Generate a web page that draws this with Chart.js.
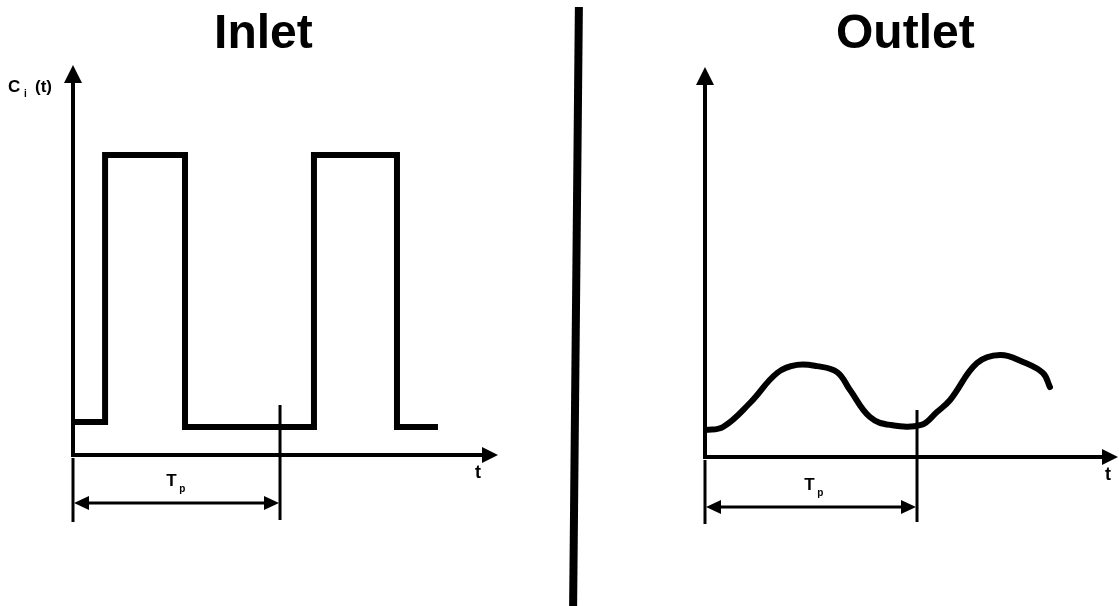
<!DOCTYPE html>
<html>
<head>
<meta charset="utf-8">
<script src="https://cdn.jsdelivr.net/npm/chart.js@4"></script>
<style>
  body { margin: 0; background: #fff; width: 1119px; height: 606px; overflow: hidden; position: relative; }
  canvas { position: absolute; top: 0; }
  #inlet { left: 0; }
  #outlet { left: 590px; }
  #divider { position: absolute; left: 572px; top: 7px; width: 8px; height: 599px; background: #000; transform: skewX(-0.55deg); }
</style>
</head>
<body>
<canvas id="inlet" width="560" height="606"></canvas>
<div id="divider"></div>
<canvas id="outlet" width="529" height="606"></canvas>
<script>
// inlet: square pulses (t in units where one period Tp = 10)
const inletT = [0, 1.55, 1.55, 5.41, 5.41, 11.64, 11.64, 15.65, 15.65, 17.63];
const inletC = [0.11, 0.11, 1, 1, 0.093, 0.093, 1, 1, 0.093, 0.093];

// outlet: damped, smoothed response
const outletT = [0, 0.85, 2.12, 3.4, 4.34, 5.28, 6.23, 6.84, 7.78, 8.73, 10.2, 10.94, 11.56, 12.83, 13.92, 15.0, 15.94, 16.27];
const outletC = [0.09, 0.1, 0.18, 0.28, 0.307, 0.303, 0.283, 0.223, 0.133, 0.107, 0.107, 0.15, 0.19, 0.313, 0.34, 0.317, 0.28, 0.233];

const period = 10;
const FONT = '"Liberation Sans", Arial, Helvetica, sans-serif';

function arrowHead(ctx, x, y, dir, len, half) {
  ctx.beginPath();
  if (dir === 'up') { ctx.moveTo(x, y); ctx.lineTo(x - half, y + len); ctx.lineTo(x + half, y + len); }
  if (dir === 'right') { ctx.moveTo(x, y); ctx.lineTo(x - len, y - half); ctx.lineTo(x - len, y + half); }
  if (dir === 'left') { ctx.moveTo(x, y); ctx.lineTo(x + len, y - half); ctx.lineTo(x + len, y + half); }
  ctx.closePath();
  ctx.fill();
}

// axes with arrows, Tp dimension, labels
const schematic = {
  id: 'schematic',
  afterDraw(chart, args, o) {
    const ctx = chart.ctx;
    const xs = chart.scales.x, ys = chart.scales.y;
    const x0 = xs.getPixelForValue(0), xEnd = xs.getPixelForValue(xs.max);
    const y0 = ys.getPixelForValue(0), yEnd = ys.getPixelForValue(ys.max);
    const xTp = xs.getPixelForValue(period);
    ctx.save();
    ctx.fillStyle = '#000';
    ctx.strokeStyle = '#000';
    ctx.lineCap = 'butt';

    // axes
    ctx.lineWidth = 4;
    ctx.beginPath();
    ctx.moveTo(x0, y0 + 2); ctx.lineTo(x0, yEnd + 14);
    ctx.moveTo(x0 - 2, y0); ctx.lineTo(xEnd - 12, y0);
    ctx.stroke();
    arrowHead(ctx, x0, yEnd, 'up', 18, 9);
    arrowHead(ctx, xEnd, y0, 'right', 16, 8);

    // Tp markers
    ctx.lineWidth = 3;
    ctx.beginPath();
    ctx.moveTo(x0, y0 + 3); ctx.lineTo(x0, y0 + 67);
    ctx.moveTo(xTp, ys.getPixelForValue(o.markTop)); ctx.lineTo(xTp, y0 + 65);
    const ya = y0 + o.arrowDy;
    ctx.moveTo(x0 + 10, ya); ctx.lineTo(xTp - 10, ya);
    ctx.stroke();
    arrowHead(ctx, x0 + 1, ya, 'left', 15, 7);
    arrowHead(ctx, xTp - 1, ya, 'right', 15, 7);

    // Tp label
    const xt = xs.getPixelForValue(o.tpLabelT);
    ctx.textBaseline = 'alphabetic';
    ctx.textAlign = 'left';
    ctx.font = 'bold 17px ' + FONT;
    ctx.fillText('T', xt, y0 + o.tpDy);
    ctx.font = 'bold 10px ' + FONT;
    ctx.fillText('p', xt + 13, y0 + o.tpDy + 6);

    // t label
    ctx.font = 'bold 18px ' + FONT;
    ctx.fillText('t', xEnd - o.tDx, y0 + 23);

    // y label
    const lx = o.yLabelX, ly = o.yLabelY;
    ctx.font = 'bold 17px ' + FONT;
    ctx.fillText('C', lx, ly);
    ctx.font = 'bold 10px ' + FONT;
    ctx.fillText(o.sub, lx + 16, ly + 5);
    ctx.font = 'bold 17px ' + FONT;
    ctx.fillText('(t)', lx + 27, ly);

    // title
    ctx.textAlign = 'center';
    ctx.font = 'bold 48px ' + FONT;
    ctx.fillText(o.title, xs.getPixelForValue(o.titleT), 48);
    ctx.restore();
  }
};

function makeChart(id, tVals, cVals, xMax, pad, lineOpts, opts) {
  new Chart(document.getElementById(id), {
    type: 'line',
    data: {
      datasets: [Object.assign({
        data: tVals.map((t, i) => ({ x: t, y: cVals[i] })),
        borderColor: '#000',
        borderWidth: 5,
        pointRadius: 0,
        fill: false
      }, lineOpts)]
    },
    options: {
      responsive: false,
      animation: false,
      devicePixelRatio: 1,
      layout: { padding: pad },
      scales: {
        x: { type: 'linear', min: 0, max: xMax, display: false },
        y: { type: 'linear', min: 0, max: 1.3, display: false }
      },
      plugins: {
        legend: { display: false },
        tooltip: { enabled: false },
        schematic: opts
      }
    },
    plugins: [schematic]
  });
}

makeChart('inlet', inletT, inletC, 20.53,
  { left: 73, right: 62, top: 65, bottom: 151 },
  { tension: 0, borderWidth: 6, borderJoinStyle: 'miter' },
  { title: 'Inlet', titleT: 9.2, sub: 'i', yLabelX: 8, yLabelY: 92,
    markTop: 0.167, arrowDy: 48, tpLabelT: 4.5, tpDy: 31, tDx: 23 });

makeChart('outlet', outletT, outletC, 19.48,
  { left: 115, right: 1, top: 67, bottom: 149 },
  { tension: 0.4, borderWidth: 6, borderCapStyle: 'round' },
  { title: 'Outlet', titleT: 9.45, sub: 'o', yLabelX: 640, yLabelY: 95,
    markTop: 0.157, arrowDy: 50, tpLabelT: 4.68, tpDy: 33, tDx: 13 });
</script>
</body>
</html>
